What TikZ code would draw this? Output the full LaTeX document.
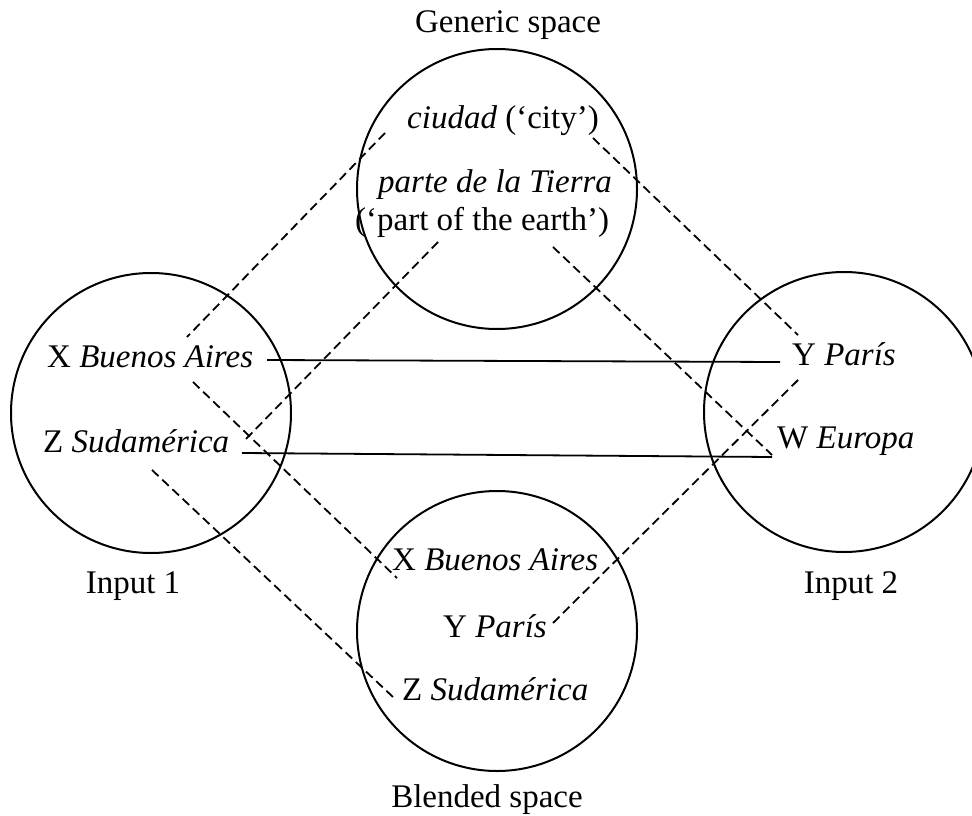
\documentclass[tikz,border=0pt]{standalone}
\usepackage{fontspec}
\setmainfont{Liberation Serif}
\begin{document}
\begin{tikzpicture}[x=1pt,y=-1pt,
  font=\fontsize{33}{40}\selectfont,
  circ/.style={circle, draw, line width=2pt, minimum size=280pt, inner sep=0pt},
  lbl/.style={anchor=base west, inner sep=0pt},
  captxt/.style={anchor=base, inner sep=0pt},
  dsh/.style={line width=1.8pt, dash pattern=on 9pt off 5pt},
  sld/.style={line width=1.8pt}]
\useasboundingbox (0,0) rectangle (972,816);

% circles
\node[circ] (gen) at (497,189) {};
\node[circ] (in1) at (151,413) {};
\node[circ] (in2) at (844,412) {};
\node[circ] (bld) at (497,631) {};

% captions
\node[captxt] (capgen) at (508,33) {Generic space};
\node[captxt] (capin1) at (133,593) {Input 1};
\node[captxt] (capin2) at (851,593) {Input 2};
\node[captxt] (capbld) at (487,807) {Blended space};

% generic space
\node[lbl] (ciudad) at (407,128) {\textit{ciudad} (‘city’)};
\node[lbl] (parte) at (378,192) {\textit{parte de la Tierra}};
\node[lbl] (earth) at (355,230) {(‘part of the earth’)};

% input 1
\node[lbl] (xba1) at (47,367) {X \textit{Buenos Aires}};
\node[lbl] (zsu1) at (43,452) {Z \textit{Sudamérica}};

% input 2
\node[lbl] (ypa2) at (792,365) {Y \textit{París}};
\node[lbl] (weu2) at (777,448) {W \textit{Europa}};

% blended space
\node[lbl] (xbab) at (392,570) {X \textit{Buenos Aires}};
\node[lbl] (ypab) at (443,637) {Y \textit{París}};
\node[lbl] (zsub) at (402,700) {Z \textit{Sudamérica}};

% connector end points
\coordinate (s1a) at (267,360);
\coordinate (s1b) at (780,362);
\coordinate (s2a) at (242,453);
\coordinate (s2b) at (772,457);

\coordinate (d1a) at (385,133);
\coordinate (d1b) at (187,337);
\coordinate (d2a) at (438,242);
\coordinate (d2b) at (245,440);
\coordinate (d3a) at (593,138);
\coordinate (d3b) at (798,335);
\coordinate (d4a) at (553,247);
\coordinate (d4b) at (772,455);
\coordinate (d5a) at (193,382);
\coordinate (d5b) at (397,578);
\coordinate (d6a) at (152,470);
\coordinate (d6b) at (393,697);
\coordinate (d7a) at (798,380);
\coordinate (d7b) at (553,623);

% solid connectors
\draw[sld] (s1a) -- (s1b);
\draw[sld] (s2a) -- (s2b);

% dashed connectors
\draw[dsh] (d1a) -- (d1b);
\draw[dsh] (d2a) -- (d2b);
\draw[dsh] (d3a) -- (d3b);
\draw[dsh] (d4a) -- (d4b);
\draw[dsh] (d5a) -- (d5b);
\draw[dsh] (d6a) -- (d6b);
\draw[dsh] (d7a) -- (d7b);
\end{tikzpicture}
\end{document}
